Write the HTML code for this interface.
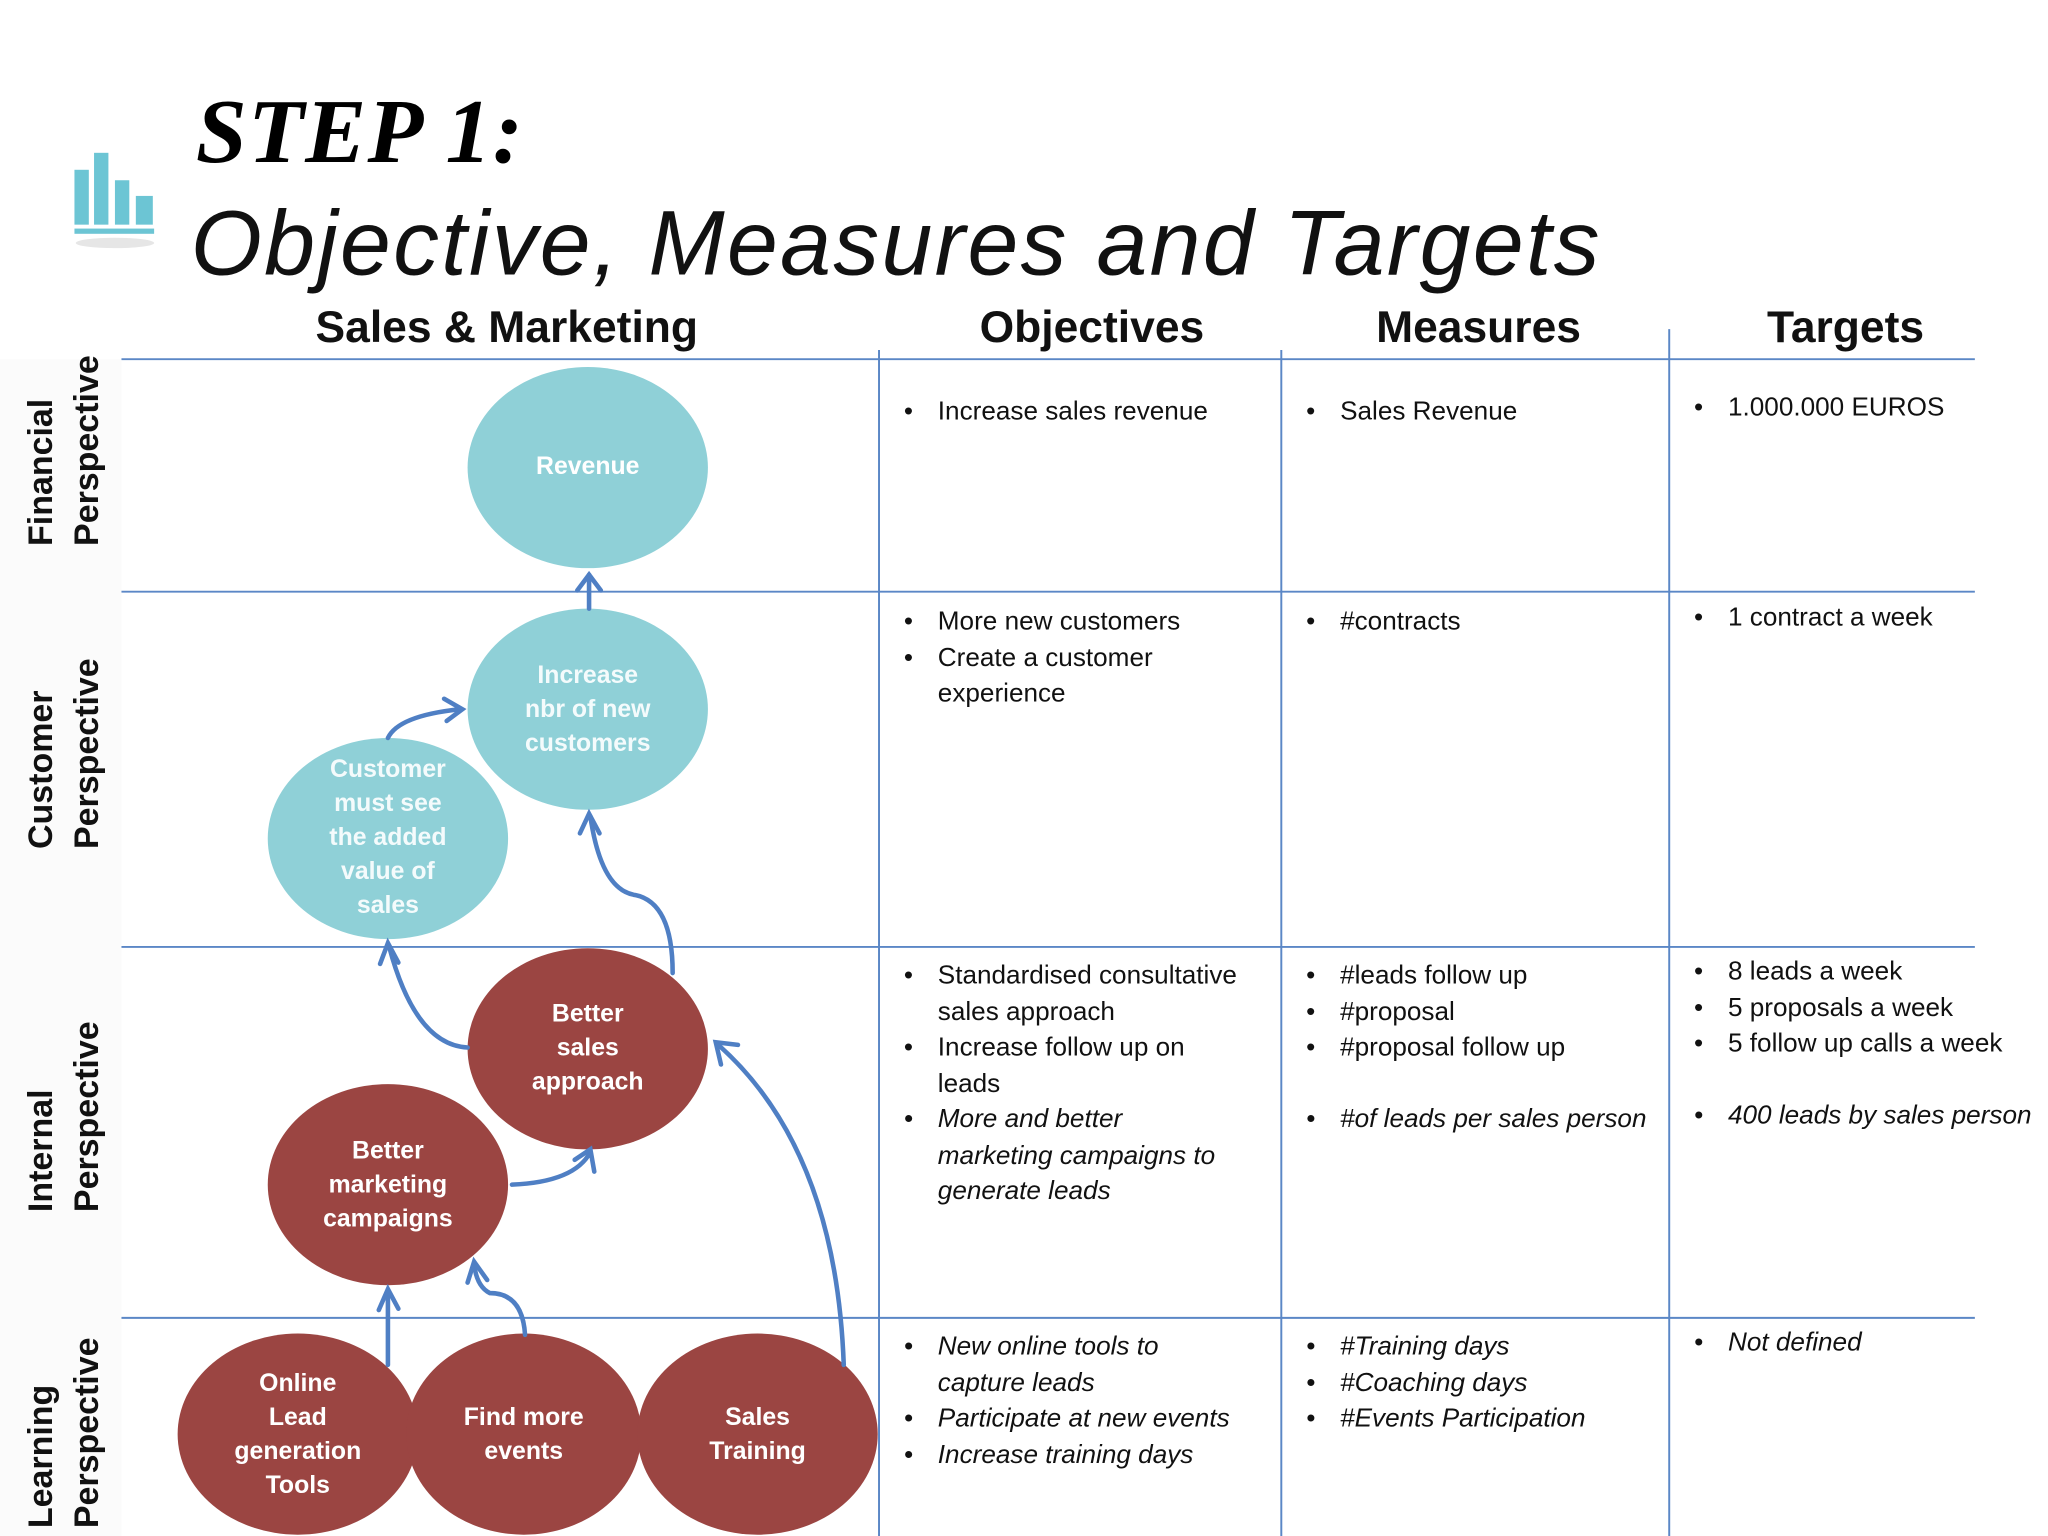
<!DOCTYPE html>
<html><head><meta charset="utf-8"><style>
html,body{margin:0;padding:0;background:#fff;width:2048px;height:1536px;overflow:hidden}
#w{position:absolute;left:0;top:0;width:1568px;height:1176px;transform:scale(1.30612);transform-origin:0 0;font-family:"Liberation Sans",sans-serif}
.t{position:absolute;white-space:nowrap}
.h{font-weight:bold;font-size:34px;color:#111;transform:translateX(-50%)}
ul{position:absolute;margin:0;padding:0;list-style:none;font-size:20px;color:#111;line-height:27.5px}
li{position:relative;padding-left:26px}
li:before{content:"•";position:absolute;left:0}
.i{font-style:italic}
.rl{position:absolute;font-weight:bold;font-size:26px;line-height:35px;color:#111;transform:rotate(-90deg);transform-origin:0 0;white-space:nowrap}
</style></head><body><div id="w">
<div style="position:absolute;left:0;top:275px;width:93px;height:901px;background:#fbfbfb"></div>
<svg width="1568" height="1176" style="position:absolute;left:0;top:0">
<g fill="#6cc5d4"><rect x="57" y="130" width="11" height="42"/><rect x="72" y="117" width="11" height="55"/><rect x="88" y="138" width="11" height="34"/><rect x="104" y="150" width="13" height="22"/><rect x="57" y="175" width="61" height="4"/></g>
<ellipse cx="88" cy="186" rx="30" ry="4" fill="#e6e6e6"/>
<g stroke="#5b87c6" stroke-width="1.5">
<line x1="93" y1="275" x2="1512" y2="275"/><line x1="93" y1="453" x2="1512" y2="453"/><line x1="93" y1="725" x2="1512" y2="725"/><line x1="93" y1="1009" x2="1512" y2="1009"/>
<line x1="673" y1="268" x2="673" y2="1176"/><line x1="981" y1="268" x2="981" y2="1176"/><line x1="1278" y1="252" x2="1278" y2="1176"/>
</g>
<g fill="#8fd0d7"><ellipse cx="450" cy="358" rx="92" ry="77"/><ellipse cx="450" cy="543" rx="92" ry="77"/><ellipse cx="297" cy="642" rx="92" ry="77"/></g>
<g fill="#9b4542"><ellipse cx="450" cy="803" rx="92" ry="77"/><ellipse cx="297" cy="907" rx="92" ry="77"/><ellipse cx="228" cy="1098" rx="92" ry="77"/><ellipse cx="401" cy="1098" rx="90" ry="77"/><ellipse cx="580" cy="1098" rx="92" ry="77"/></g>
<g stroke="#4f7fc4" stroke-width="3.5" fill="none" stroke-linecap="round">
<path d="M451 466 L451 440"/><path d="M442 452 L451 440 L460 452"/>
<path d="M297 565 Q305 548 352 543"/><path d="M340 535 L354 543 L342 552"/>
<path d="M515 745 Q515 690 485 685 Q460 680 452 625"/><path d="M444 638 L451 623 L459 638"/>
<path d="M358 802 Q318 800 298 725"/><path d="M291 738 L297 722 L305 737"/>
<path d="M392 907 Q440 905 452 882"/><path d="M440 888 L452 880 L455 897"/>
<path d="M297 1045 L297 988"/><path d="M290 1003 L297 987 L305 1002"/>
<path d="M402 1022 Q400 990 375 990 Q365 985 363 968"/><path d="M358 982 L363 966 L373 980"/>
<path d="M646 1045 Q640 880 550 800"/><path d="M552 815 L548 798 L565 800"/>
</g>
</svg>
<div class="t" style="left:150px;top:62px;font-size:70px;font-weight:900;font-style:italic;font-family:'Liberation Serif',serif;letter-spacing:1px">STEP 1:</div>
<div class="t" style="left:146px;top:146px;font-size:70px;font-style:italic;color:#111;letter-spacing:1.8px">Objective, Measures and Targets</div>
<div class="t h" style="left:388px;top:232px">Sales &amp; Marketing</div>
<div class="t h" style="left:836px;top:232px">Objectives</div>
<div class="t h" style="left:1132px;top:232px">Measures</div>
<div class="t h" style="left:1413px;top:232px">Targets</div>
<div class="rl" style="left:14px;top:418px">Financial<br>Perspective</div>
<div class="rl" style="left:14px;top:650px">Customer<br>Perspective</div>
<div class="rl" style="left:14px;top:928px">Internal<br>Perspective</div>
<div class="rl" style="left:14px;top:1170px">Learning<br>Perspective</div>
<div style="position:absolute;color:#fff;font-weight:bold;font-size:19px;line-height:26px;text-align:center">
<div class="t" style="left:358px;width:184px;top:345px">Revenue</div>
<div class="t" style="left:358px;width:184px;top:505px;color:#f4fbfc">Increase<br>nbr of new<br>customers</div>
<div class="t" style="left:205px;width:184px;top:577px;color:#f4fbfc">Customer<br>must see<br>the added<br>value of<br>sales</div>
<div class="t" style="left:358px;width:184px;top:764px">Better<br>sales<br>approach</div>
<div class="t" style="left:205px;width:184px;top:869px">Better<br>marketing<br>campaigns</div>
<div class="t" style="left:136px;width:184px;top:1047px">Online<br>Lead<br>generation<br>Tools</div>
<div class="t" style="left:311px;width:180px;top:1073px">Find more<br>events</div>
<div class="t" style="left:488px;width:184px;top:1073px">Sales<br>Training</div>
</div>
<ul style="left:692px;top:302px"><li>Increase sales revenue</li></ul>
<ul style="left:1000px;top:302px"><li>Sales Revenue</li></ul>
<ul style="left:1297px;top:299px"><li>1.000.000 EUROS</li></ul>
<ul style="left:692px;top:463px"><li>More new customers</li><li>Create a customer<br>experience</li></ul>
<ul style="left:1000px;top:463px"><li>#contracts</li></ul>
<ul style="left:1297px;top:460px"><li>1 contract a week</li></ul>
<ul style="left:692px;top:734px"><li>Standardised consultative<br>sales approach</li><li>Increase follow up on<br>leads</li><li class="i">More and better<br>marketing campaigns to<br>generate leads</li></ul>
<ul style="left:1000px;top:734px"><li>#leads follow up</li><li>#proposal</li><li>#proposal follow up</li><li style="margin-top:27px" class="i">#of leads per sales person</li></ul>
<ul style="left:1297px;top:731px"><li>8 leads a week</li><li>5 proposals a week</li><li>5 follow up calls a week</li><li style="margin-top:27px" class="i">400 leads by sales person</li></ul>
<ul class="i" style="left:692px;top:1018px"><li>New online tools to<br>capture leads</li><li>Participate at new events</li><li>Increase training days</li></ul>
<ul class="i" style="left:1000px;top:1018px"><li>#Training days</li><li>#Coaching days</li><li>#Events Participation</li></ul>
<ul class="i" style="left:1297px;top:1015px"><li>Not defined</li></ul>
</div></body></html>
